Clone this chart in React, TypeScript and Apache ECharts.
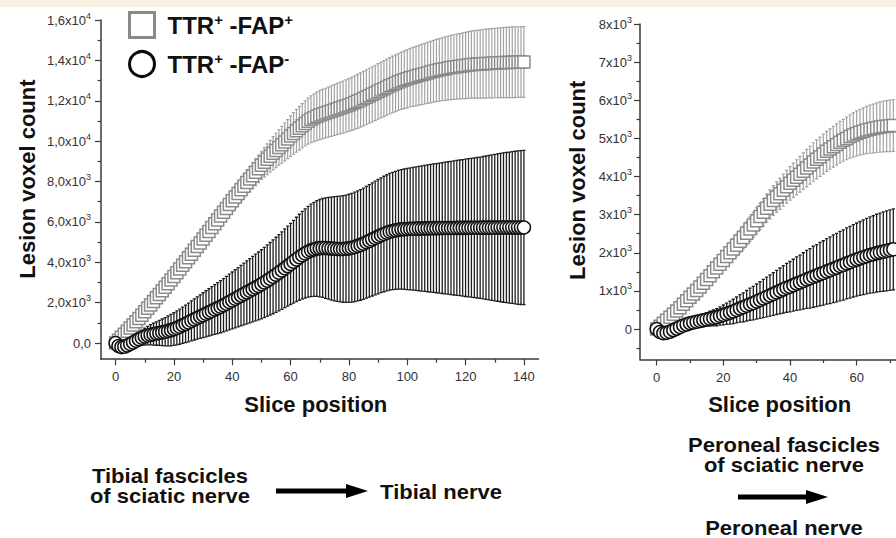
import React, { useEffect, useRef } from 'react';
import * as echarts from 'echarts';

const FONT = '"Liberation Sans", Arial, Helvetica, sans-serif';

// ---------- Tibial (left panel), slice 0..140 ----------
const TIBIAL_FAP_POS_MEAN = [
  0, 140, 290, 440, 590, 750, 900, 1050, 1210, 1380, 1550,
  1720, 1890, 2060, 2240, 2410, 2590, 2760, 2940, 3120, 3300,
  3480, 3670, 3850, 4030, 4220, 4400, 4590, 4780, 4960, 5150,
  5340, 5530, 5720, 5910, 6100, 6290, 6480, 6670, 6860, 7050,
  7230, 7410, 7590, 7770, 7950, 8120, 8290, 8460, 8630, 8800,
  8950, 9100, 9250, 9400, 9540, 9680, 9820, 9960, 10100, 10250,
  10380, 10510, 10640, 10760, 10880, 10990, 11080, 11160, 11230, 11290,
  11340, 11390, 11440, 11490, 11540, 11590, 11640, 11690, 11740, 11790,
  11850, 11910, 11970, 12040, 12110, 12180, 12250, 12320, 12390, 12460,
  12530, 12600, 12670, 12740, 12810, 12870, 12930, 12990, 13040, 13090,
  13140, 13180, 13220, 13260, 13300, 13340, 13380, 13420, 13460, 13500,
  13530, 13560, 13590, 13620, 13650, 13670, 13690, 13710, 13730, 13750,
  13770, 13790, 13800, 13810, 13820, 13830, 13840, 13850, 13860, 13870,
  13880, 13885, 13890, 13895, 13900, 13905, 13910, 13915, 13920, 13920,
];
const TIBIAL_FAP_POS_SD = [
  60, 80, 100, 110, 120, 130, 140, 150, 160, 170, 180,
  190, 200, 210, 220, 230, 240, 250, 260, 270, 280,
  290, 300, 310, 320, 330, 340, 350, 360, 370, 380,
  390, 400, 410, 420, 430, 440, 450, 460, 480, 500,
  520, 540, 560, 580, 600, 620, 640, 660, 680, 700,
  730, 760, 790, 820, 850, 880, 910, 940, 970, 1000,
  1030, 1060, 1080, 1100, 1120, 1140, 1160, 1180, 1200, 1210,
  1220, 1230, 1240, 1250, 1260, 1270, 1280, 1290, 1300, 1310,
  1320, 1330, 1340, 1345, 1350, 1355, 1360, 1365, 1370, 1375,
  1380, 1385, 1390, 1395, 1400, 1405, 1410, 1420, 1430, 1440,
  1450, 1460, 1470, 1480, 1490, 1500, 1510, 1520, 1530, 1540,
  1550, 1560, 1570, 1580, 1590, 1600, 1610, 1620, 1630, 1640,
  1650, 1660, 1670, 1680, 1690, 1700, 1705, 1710, 1715, 1720,
  1725, 1730, 1735, 1740, 1745, 1750, 1750, 1750, 1750, 1750,
];
const TIBIAL_FAP_NEG_MEAN = [
  0, -150, -200, -180, -120, -50, 30, 110, 190, 260, 320,
  370, 410, 440, 470, 500, 530, 560, 600, 640, 690,
  750, 810, 880, 950, 1020, 1100, 1170, 1240, 1310, 1380,
  1450, 1520, 1590, 1660, 1730, 1800, 1870, 1950, 2030, 2110,
  2190, 2270, 2350, 2430, 2510, 2590, 2670, 2750, 2830, 2910,
  3000, 3090, 3180, 3280, 3380, 3480, 3590, 3700, 3810, 3920,
  4030, 4140, 4250, 4350, 4440, 4520, 4590, 4640, 4680, 4700,
  4710, 4705, 4695, 4680, 4670, 4660, 4655, 4660, 4670, 4690,
  4720, 4760, 4810, 4860, 4920, 4990, 5060, 5130, 5200, 5270,
  5340, 5400, 5460, 5510, 5550, 5580, 5610, 5630, 5640, 5650,
  5655, 5660, 5665, 5670, 5675, 5680, 5680, 5685, 5690, 5690,
  5695, 5695, 5700, 5700, 5700, 5700, 5705, 5705, 5705, 5705,
  5710, 5710, 5710, 5710, 5710, 5715, 5715, 5715, 5715, 5715,
  5720, 5720, 5720, 5720, 5720, 5720, 5720, 5720, 5720, 5720,
];
const TIBIAL_FAP_NEG_SD = [
  30, 60, 100, 140, 180, 220, 260, 300, 340, 380, 420,
  460, 500, 540, 580, 620, 660, 700, 740, 780, 810,
  840, 870, 900, 930, 960, 990, 1020, 1050, 1080, 1110,
  1140, 1170, 1200, 1230, 1260, 1290, 1320, 1350, 1380, 1410,
  1440, 1470, 1500, 1530, 1560, 1590, 1620, 1650, 1680, 1710,
  1740, 1770, 1800, 1830, 1860, 1890, 1920, 1950, 1980, 2010,
  2050, 2090, 2130, 2170, 2210, 2250, 2290, 2330, 2370, 2410,
  2450, 2490, 2520, 2550, 2580, 2600, 2620, 2640, 2660, 2680,
  2695, 2710, 2725, 2740, 2755, 2770, 2785, 2800, 2815, 2830,
  2845, 2860, 2875, 2890, 2905, 2920, 2940, 2960, 2980, 3000,
  3020, 3040, 3060, 3080, 3100, 3120, 3140, 3160, 3180, 3200,
  3220, 3240, 3260, 3280, 3300, 3320, 3340, 3360, 3380, 3400,
  3420, 3440, 3460, 3480, 3500, 3525, 3550, 3575, 3600, 3625,
  3650, 3675, 3700, 3720, 3740, 3760, 3780, 3800, 3810, 3820,
];

// ---------- Peroneal (right panel), slice 0..71 (visible part) ----------
const PERONEAL_FAP_POS_MEAN = [
  0, 70, 150, 230, 310, 390, 470, 560, 650, 740, 830,
  920, 1010, 1100, 1200, 1300, 1400, 1500, 1600, 1700, 1800,
  1900, 2000, 2100, 2200, 2300, 2400, 2510, 2620, 2730, 2840,
  2950, 3060, 3170, 3270, 3370, 3460, 3550, 3640, 3730, 3820,
  3900, 3980, 4060, 4140, 4220, 4300, 4380, 4450, 4520, 4590,
  4660, 4720, 4780, 4840, 4900, 4950, 5000, 5050, 5090, 5130,
  5160, 5190, 5220, 5240, 5260, 5280, 5300, 5310, 5320, 5330, 5340,
];
const PERONEAL_FAP_POS_SD = [
  40, 50, 60, 70, 80, 90, 100, 110, 120, 130, 140,
  150, 160, 170, 180, 190, 200, 210, 220, 230, 240,
  250, 260, 270, 280, 290, 300, 310, 320, 330, 340,
  350, 360, 370, 380, 390, 400, 410, 420, 430, 440,
  450, 460, 470, 480, 490, 500, 505, 510, 515, 520,
  525, 530, 535, 540, 545, 550, 560, 570, 580, 590,
  600, 610, 620, 630, 640, 650, 660, 665, 670, 675, 680,
];
const PERONEAL_FAP_NEG_MEAN = [
  0, -80, -110, -100, -70, -30, 10, 50, 90, 120, 150,
  170, 190, 210, 230, 250, 270, 290, 310, 340, 370,
  400, 430, 460, 500, 540, 570, 610, 650, 680, 720,
  760, 800, 840, 880, 920, 960, 1000, 1040, 1080, 1110,
  1150, 1190, 1220, 1260, 1300, 1330, 1370, 1400, 1440, 1470,
  1510, 1540, 1580, 1610, 1650, 1680, 1720, 1750, 1790, 1820,
  1850, 1880, 1910, 1940, 1960, 1990, 2010, 2030, 2050, 2070, 2090,
];
const PERONEAL_FAP_NEG_SD = [
  20, 30, 40, 50, 60, 70, 80, 90, 100, 110, 120,
  130, 140, 150, 165, 180, 195, 210, 225, 240, 260,
  280, 300, 320, 340, 360, 380, 400, 420, 440, 460,
  480, 500, 520, 540, 560, 580, 600, 620, 640, 660,
  680, 700, 720, 740, 760, 780, 800, 815, 830, 845,
  860, 875, 890, 900, 910, 920, 930, 940, 950, 960,
  970, 980, 990, 1000, 1010, 1020, 1030, 1040, 1050, 1055, 1060,
];

// ---------- ticks ----------
const LEFT_X_MAJOR = [0, 20, 40, 60, 80, 100, 120, 140];
const LEFT_X_MINOR = [10, 30, 50, 70, 90, 110, 130];
const RIGHT_X_MAJOR = [0, 20, 40, 60];
const RIGHT_X_MINOR = [10, 30, 50, 70];
const LEFT_Y_MAJOR = [0, 2000, 4000, 6000, 8000, 10000, 12000, 14000, 16000];
const LEFT_Y_LABELS = [
  ['0,0', ''], ['2,0x10', '3'], ['4,0x10', '3'], ['6,0x10', '3'], ['8,0x10', '3'],
  ['1,0x10', '4'], ['1,2x10', '4'], ['1,4x10', '4'], ['1,6x10', '4'],
];
const LEFT_Y_MINOR = [1000, 3000, 5000, 7000, 9000, 11000, 13000, 15000];
const RIGHT_Y_MAJOR = [0, 1000, 2000, 3000, 4000, 5000, 6000, 7000, 8000];
const RIGHT_Y_LABELS = [
  ['0', ''], ['1x10', '3'], ['2x10', '3'], ['3x10', '3'], ['4x10', '3'],
  ['5x10', '3'], ['6x10', '3'], ['7x10', '3'], ['8x10', '3'],
];
const RIGHT_Y_MINOR = [-500, 500, 1500, 2500, 3500, 4500, 5500, 6500, 7500];

const NAME_POS = 'TTR+ -FAP+';
const NAME_NEG = 'TTR+ -FAP-';

const GRAY = '#8a8a8a';
const GRAY_BAR = '#a2a2a2';
const BLACK = '#111111';
const BLACK_BAR = '#1e1e1e';
const AXIS = '#3a3a3a';
const LABEL = '#333333';

const points = (mean: number[]) => mean.map((m, i) => [i, m]);
const bars = (mean: number[], sd: number[]) => mean.map((m, i) => [i, m - sd[i], m + sd[i]]);

const errRender = (color: string, width: number) => (_params: any, api: any) => {
  const x = api.value(0);
  const top = api.coord([x, api.value(2)]);
  const bot = api.coord([x, api.value(1)]);
  const h = 1.6;
  const style = { stroke: color, lineWidth: width };
  return {
    type: 'group',
    children: [
      { type: 'line', shape: { x1: top[0], y1: top[1], x2: bot[0], y2: bot[1] }, style },
      { type: 'line', shape: { x1: top[0] - h, y1: top[1], x2: top[0] + h, y2: top[1] }, style },
      { type: 'line', shape: { x1: bot[0] - h, y1: bot[1], x2: bot[0] + h, y2: bot[1] }, style },
    ],
  };
};

const yLabelFormatter = (ticks: number[], labels: string[][]) => (v: number) => {
  const i = ticks.indexOf(v);
  if (i < 0) return '';
  const [m, e] = labels[i];
  return e ? `{m|${m}}{e|${e}}` : `{m|${m}}`;
};

const yRich = {
  m: { fontSize: 13, fontFamily: FONT, color: LABEL, lineHeight: 18 },
  e: { fontSize: 9, fontFamily: FONT, color: LABEL, lineHeight: 10, verticalAlign: 'top' },
};

const titleStyle = { fontSize: 22, fontWeight: 'bold', fontFamily: FONT, color: '#111' };

function xAxes(gridIndex: number, min: number, max: number, major: number[], minor: number[], namePad: number[]) {
  return [
    {
      type: 'value', gridIndex, min, max, position: 'bottom',
      axisLine: { show: true, onZero: false, lineStyle: { color: AXIS, width: 1.5 } },
      axisTick: { show: true, customValues: major, length: 6, lineStyle: { color: AXIS, width: 1.2 } },
      axisLabel: { customValues: major, margin: 11, fontSize: 13, fontFamily: FONT, color: LABEL },
      splitLine: { show: false },
      name: 'Slice position', nameLocation: 'middle', nameGap: 34, nameMoveOverlap: false,
      nameTextStyle: { ...titleStyle, padding: namePad },
    },
    {
      type: 'value', gridIndex, min, max, position: 'bottom',
      axisLine: { show: false, onZero: false },
      axisTick: { show: true, customValues: minor, length: 3.5, lineStyle: { color: AXIS, width: 1.2 } },
      axisLabel: { show: false },
      splitLine: { show: false },
    },
  ];
}

function yAxes(gridIndex: number, min: number, max: number, major: number[], labels: string[][], minor: number[], nameGap: number, namePad: number[], margin: number) {
  return [
    {
      type: 'value', gridIndex, min, max, position: 'left',
      axisLine: { show: true, onZero: false, lineStyle: { color: AXIS, width: 1.5 } },
      axisTick: { show: true, customValues: major, length: 6, lineStyle: { color: AXIS, width: 1.2 } },
      axisLabel: { customValues: major, margin, formatter: yLabelFormatter(major, labels), rich: yRich },
      splitLine: { show: false },
      name: 'Lesion voxel count', nameLocation: 'middle', nameGap, nameRotate: 90, nameMoveOverlap: false,
      nameTextStyle: { ...titleStyle, padding: namePad },
    },
    {
      type: 'value', gridIndex, min, max, position: 'left',
      axisLine: { show: false, onZero: false },
      axisTick: { show: true, customValues: minor, length: 3.5, lineStyle: { color: AXIS, width: 1.2 } },
      axisLabel: { show: false },
      splitLine: { show: false },
    },
  ];
}

function panelSeries(xi: number, posMean: number[], posSd: number[], negMean: number[], negSd: number[]) {
  return [
    {
      type: 'custom', name: NAME_POS + ' SD', xAxisIndex: xi, yAxisIndex: xi, clip: true,
      renderItem: errRender(GRAY_BAR, 1.2), data: bars(posMean, posSd), encode: { x: 0, y: [1, 2] }, silent: true,
    },
    {
      type: 'scatter', name: NAME_POS, xAxisIndex: xi, yAxisIndex: xi, symbol: 'rect', symbolSize: 12,
      itemStyle: { color: '#ffffff', borderColor: GRAY, borderWidth: 1.5, opacity: 1 },
      data: points(posMean), silent: true,
    },
    {
      type: 'custom', name: NAME_NEG + ' SD', xAxisIndex: xi, yAxisIndex: xi, clip: true,
      renderItem: errRender(BLACK_BAR, 1.3), data: bars(negMean, negSd), encode: { x: 0, y: [1, 2] }, silent: true,
    },
    {
      type: 'scatter', name: NAME_NEG, xAxisIndex: xi, yAxisIndex: xi, symbol: 'circle', symbolSize: 13,
      itemStyle: { color: '#ffffff', borderColor: BLACK, borderWidth: 1.5, opacity: 1 },
      data: points(negMean), silent: true,
    },
  ];
}

function arrow(x0: number, x1: number, y: number) {
  const head = 22;
  const sh = 2.6;
  const hh = 7;
  return {
    type: 'polygon',
    shape: {
      points: [
        [x0, y - sh], [x1 - head, y - sh], [x1 - head, y - hh], [x1, y],
        [x1 - head, y + hh], [x1 - head, y + sh], [x0, y + sh],
      ],
    },
    style: { fill: '#000' },
    silent: true,
  };
}

const bottomText = (x: number, y: number, text: string) => ({
  type: 'text', x, y, scaleX: 1.1, silent: true,
  style: {
    text, fontSize: 20, fontWeight: 'bold', fontFamily: FONT, fill: '#111',
    align: 'center', verticalAlign: 'middle', lineHeight: 20,
  },
});

export default function App() {
  const ref = useRef<HTMLDivElement>(null);
  useEffect(() => {
    if (!ref.current) return;
    const chart = echarts.init(ref.current, null, { renderer: 'svg' });
    const option: any = {
      animation: false,
      backgroundColor: '#ffffff',
      grid: [
        { left: 101, top: 20, width: 437.5, height: 339.2, outerBoundsMode: 'none', containLabel: false },
        { left: 640, top: 24, width: 283.3, height: 335.5, outerBoundsMode: 'none', containLabel: false },
      ],
      xAxis: [
        ...xAxes(0, -5, 145, LEFT_X_MAJOR, LEFT_X_MINOR, [0, 8, 0, 0]),
        ...xAxes(1, -5, 80, RIGHT_X_MAJOR, RIGHT_X_MINOR, [0, 4, 0, 0]),
      ],
      yAxis: [
        ...yAxes(0, -800, 16000, LEFT_Y_MAJOR, LEFT_Y_LABELS, LEFT_Y_MINOR, 63, [0, 0, 0, 21], 10),
        ...yAxes(1, -800, 8000, RIGHT_Y_MAJOR, RIGHT_Y_LABELS, RIGHT_Y_MINOR, 52, [0, 0, 0, 23], 8),
      ],
      legend: {
        show: true, orient: 'vertical', left: 123, top: 6, itemWidth: 25, itemHeight: 25, itemGap: 11,
        selectedMode: false,
        data: [
          { name: NAME_POS, icon: 'rect', itemStyle: { color: '#ffffff', borderColor: '#8a8a8a', borderWidth: 3 } },
          { name: NAME_NEG, icon: 'circle', itemStyle: { color: '#ffffff', borderColor: '#0a0a0a', borderWidth: 3 } },
        ],
        formatter: (name: string) =>
          name === NAME_POS ? '{b|TTR}{s|+}{b| -FAP}{s|+}' : '{b|TTR}{s|+}{b| -FAP}{s|-}',
        textStyle: {
          padding: [0, 0, 0, 8],
          rich: {
            b: { fontSize: 24, fontWeight: 'bold', fontFamily: FONT, color: '#111', lineHeight: 26 },
            s: { fontSize: 15, fontWeight: 'bold', fontFamily: FONT, color: '#111', lineHeight: 14, verticalAlign: 'top' },
          },
        },
      },
      graphic: [
        { type: 'rect', shape: { x: 0, y: 0, width: 896, height: 7 }, style: { fill: '#f4f0e2' }, silent: true },
        bottomText(170, 486, 'Tibial fascicles\nof sciatic nerve'),
        arrow(276, 368, 491),
        bottomText(441, 492, 'Tibial nerve'),
        bottomText(784, 455, 'Peroneal fascicles\nof sciatic nerve'),
        arrow(738, 828, 497),
        bottomText(784, 528, 'Peroneal nerve'),
      ],
      series: [
        ...panelSeries(0, TIBIAL_FAP_POS_MEAN, TIBIAL_FAP_POS_SD, TIBIAL_FAP_NEG_MEAN, TIBIAL_FAP_NEG_SD),
        ...panelSeries(2, PERONEAL_FAP_POS_MEAN, PERONEAL_FAP_POS_SD, PERONEAL_FAP_NEG_MEAN, PERONEAL_FAP_NEG_SD),
      ],
    };
    chart.setOption(option);
    return () => chart.dispose();
  }, []);
  return (
    <div
      ref={ref}
      style={{ position: 'fixed', left: 0, top: 0, width: 896, height: 538, background: '#ffffff' }}
    />
  );
}
